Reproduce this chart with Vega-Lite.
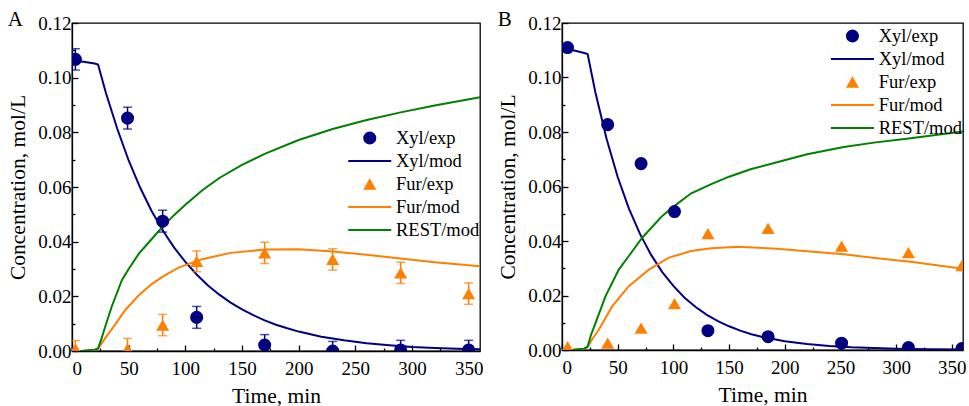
{
  "$schema": "https://vega.github.io/schema/vega-lite/v6.json",
  "background": "white",
  "padding": {"left": 7, "top": 8, "right": 0, "bottom": 0},
  "spacing": 13,
  "config": {
    "font": "Liberation Serif",
    "view": {"stroke": "#000", "strokeWidth": 1.3},
    "axis": {"domainColor": "#000", "domainWidth": 1.3, "tickColor": "#000", "tickWidth": 1.3, "grid": false,
      "labelFont": "Liberation Serif", "labelFontSize": 19, "labelColor": "#000",
      "titleFont": "Liberation Serif", "titleFontSize": 21.5, "titleFontWeight": "normal", "titleColor": "#000", "labelOverlap": false},
    "legend": {"labelFont": "Liberation Serif", "labelFontSize": 18.5, "labelColor": "#000", "padding": 0, "rowPadding": 4, "symbolSize": 170, "symbolStrokeWidth": 0, "symbolOpacity": 1, "labelOffset": 17},
    "title": {"font": "Liberation Serif", "fontSize": 21, "fontWeight": "normal", "color": "#000", "anchor": "start", "frame": "bounds", "offset": -16}
  },
  "resolve": {"scale": {"color": "independent", "shape": "independent"}, "legend": {"color": "independent", "shape": "independent"}},
  "datasets": {
    "A_exp": [
      {"t": 3, "c": 0.1067, "err": 0.0039, "series": "Xyl/exp"},
      {"t": 49, "c": 0.0852, "err": 0.004, "series": "Xyl/exp"},
      {"t": 80, "c": 0.0475, "err": 0.004, "series": "Xyl/exp"},
      {"t": 110, "c": 0.0123, "err": 0.004, "series": "Xyl/exp"},
      {"t": 170, "c": 0.0022, "err": 0.0038, "series": "Xyl/exp"},
      {"t": 230, "c": 0.0, "err": 0.0035, "series": "Xyl/exp"},
      {"t": 290, "c": 0.0004, "err": 0.0035, "series": "Xyl/exp"},
      {"t": 350, "c": 0.0004, "err": 0.0035, "series": "Xyl/exp"},
      {"t": 3, "c": 0.0008, "err": 0.003, "series": "Fur/exp"},
      {"t": 49, "c": 0.0008, "err": 0.0038, "series": "Fur/exp"},
      {"t": 80, "c": 0.0095, "err": 0.0039, "series": "Fur/exp"},
      {"t": 110, "c": 0.0328, "err": 0.0038, "series": "Fur/exp"},
      {"t": 170, "c": 0.0359, "err": 0.0039, "series": "Fur/exp"},
      {"t": 230, "c": 0.0335, "err": 0.0039, "series": "Fur/exp"},
      {"t": 290, "c": 0.0286, "err": 0.0039, "series": "Fur/exp"},
      {"t": 350, "c": 0.021, "err": 0.0039, "series": "Fur/exp"}
    ],
    "A_mod": [
      {"t": 0, "c": 0.1063, "series": "Xyl/mod"}, {"t": 10, "c": 0.1058, "series": "Xyl/mod"}, {"t": 20, "c": 0.1052, "series": "Xyl/mod"},
      {"t": 23, "c": 0.1048, "series": "Xyl/mod"}, {"t": 30, "c": 0.0943, "series": "Xyl/mod"}, {"t": 40, "c": 0.0812, "series": "Xyl/mod"},
      {"t": 50, "c": 0.0697, "series": "Xyl/mod"}, {"t": 60, "c": 0.0599, "series": "Xyl/mod"}, {"t": 70, "c": 0.0514, "series": "Xyl/mod"},
      {"t": 80, "c": 0.0442, "series": "Xyl/mod"}, {"t": 90, "c": 0.0379, "series": "Xyl/mod"}, {"t": 100, "c": 0.0326, "series": "Xyl/mod"},
      {"t": 110, "c": 0.028, "series": "Xyl/mod"}, {"t": 120, "c": 0.024, "series": "Xyl/mod"}, {"t": 130, "c": 0.0206, "series": "Xyl/mod"},
      {"t": 140, "c": 0.0177, "series": "Xyl/mod"}, {"t": 150, "c": 0.0152, "series": "Xyl/mod"}, {"t": 160, "c": 0.0131, "series": "Xyl/mod"},
      {"t": 170, "c": 0.0112, "series": "Xyl/mod"}, {"t": 180, "c": 0.0096, "series": "Xyl/mod"}, {"t": 190, "c": 0.0083, "series": "Xyl/mod"},
      {"t": 200, "c": 0.0071, "series": "Xyl/mod"}, {"t": 220, "c": 0.0052, "series": "Xyl/mod"}, {"t": 240, "c": 0.0039, "series": "Xyl/mod"},
      {"t": 260, "c": 0.0028, "series": "Xyl/mod"}, {"t": 280, "c": 0.0021, "series": "Xyl/mod"}, {"t": 300, "c": 0.0015, "series": "Xyl/mod"},
      {"t": 320, "c": 0.0011, "series": "Xyl/mod"}, {"t": 340, "c": 0.0008, "series": "Xyl/mod"}, {"t": 360, "c": 0.0006, "series": "Xyl/mod"},
      {"t": 0, "c": 0.0, "series": "Fur/mod"}, {"t": 10, "c": 0.0001, "series": "Fur/mod"}, {"t": 20, "c": 0.0005, "series": "Fur/mod"},
      {"t": 23, "c": 0.0009, "series": "Fur/mod"}, {"t": 29, "c": 0.0045, "series": "Fur/mod"}, {"t": 35, "c": 0.0079, "series": "Fur/mod"},
      {"t": 47, "c": 0.015, "series": "Fur/mod"}, {"t": 59, "c": 0.0204, "series": "Fur/mod"}, {"t": 70, "c": 0.0244, "series": "Fur/mod"},
      {"t": 80, "c": 0.0272, "series": "Fur/mod"}, {"t": 94, "c": 0.0305, "series": "Fur/mod"}, {"t": 115, "c": 0.0336, "series": "Fur/mod"},
      {"t": 140, "c": 0.0359, "series": "Fur/mod"}, {"t": 170, "c": 0.0371, "series": "Fur/mod"}, {"t": 200, "c": 0.0372, "series": "Fur/mod"},
      {"t": 230, "c": 0.0364, "series": "Fur/mod"}, {"t": 260, "c": 0.0352, "series": "Fur/mod"}, {"t": 290, "c": 0.0338, "series": "Fur/mod"},
      {"t": 320, "c": 0.0325, "series": "Fur/mod"}, {"t": 360, "c": 0.031, "series": "Fur/mod"},
      {"t": 0, "c": 0.0, "series": "REST/mod"}, {"t": 10, "c": 0.0001, "series": "REST/mod"}, {"t": 20, "c": 0.0005, "series": "REST/mod"},
      {"t": 23, "c": 0.0009, "series": "REST/mod"}, {"t": 26, "c": 0.0045, "series": "REST/mod"}, {"t": 29, "c": 0.0085, "series": "REST/mod"},
      {"t": 35, "c": 0.0162, "series": "REST/mod"}, {"t": 44, "c": 0.0259, "series": "REST/mod"}, {"t": 50, "c": 0.03, "series": "REST/mod"},
      {"t": 59, "c": 0.0356, "series": "REST/mod"}, {"t": 70, "c": 0.0408, "series": "REST/mod"}, {"t": 80, "c": 0.0455, "series": "REST/mod"},
      {"t": 90, "c": 0.0497, "series": "REST/mod"}, {"t": 100, "c": 0.0535, "series": "REST/mod"}, {"t": 115, "c": 0.0588, "series": "REST/mod"},
      {"t": 130, "c": 0.0633, "series": "REST/mod"}, {"t": 150, "c": 0.0681, "series": "REST/mod"}, {"t": 170, "c": 0.0721, "series": "REST/mod"},
      {"t": 200, "c": 0.0772, "series": "REST/mod"}, {"t": 230, "c": 0.0812, "series": "REST/mod"}, {"t": 260, "c": 0.0845, "series": "REST/mod"},
      {"t": 290, "c": 0.0873, "series": "REST/mod"}, {"t": 320, "c": 0.0898, "series": "REST/mod"}, {"t": 360, "c": 0.0928, "series": "REST/mod"}
    ],
    "B_exp": [
      {"t": 5, "c": 0.111, "series": "Xyl/exp"},
      {"t": 41, "c": 0.0827, "series": "Xyl/exp"},
      {"t": 71, "c": 0.0684, "series": "Xyl/exp"},
      {"t": 101, "c": 0.0508, "series": "Xyl/exp"},
      {"t": 131, "c": 0.0071, "series": "Xyl/exp"},
      {"t": 185, "c": 0.0049, "series": "Xyl/exp"},
      {"t": 251, "c": 0.0025, "series": "Xyl/exp"},
      {"t": 311, "c": 0.0009, "series": "Xyl/exp"},
      {"t": 359, "c": 0.0005, "series": "Xyl/exp"},
      {"t": 5, "c": 0.0012, "series": "Fur/exp"},
      {"t": 41, "c": 0.0025, "series": "Fur/exp"},
      {"t": 71, "c": 0.008, "series": "Fur/exp"},
      {"t": 101, "c": 0.017, "series": "Fur/exp"},
      {"t": 131, "c": 0.0427, "series": "Fur/exp"},
      {"t": 185, "c": 0.0446, "series": "Fur/exp"},
      {"t": 251, "c": 0.0381, "series": "Fur/exp"},
      {"t": 311, "c": 0.0357, "series": "Fur/exp"},
      {"t": 359, "c": 0.031, "series": "Fur/exp"}
    ],
    "B_mod": [
      {"t": 0, "c": 0.1108, "series": "Xyl/mod"}, {"t": 10, "c": 0.11, "series": "Xyl/mod"}, {"t": 20, "c": 0.109, "series": "Xyl/mod"},
      {"t": 23, "c": 0.1086, "series": "Xyl/mod"}, {"t": 30, "c": 0.0945, "series": "Xyl/mod"}, {"t": 40, "c": 0.0775, "series": "Xyl/mod"},
      {"t": 50, "c": 0.0635, "series": "Xyl/mod"}, {"t": 60, "c": 0.052, "series": "Xyl/mod"}, {"t": 70, "c": 0.0426, "series": "Xyl/mod"},
      {"t": 80, "c": 0.0349, "series": "Xyl/mod"}, {"t": 90, "c": 0.0286, "series": "Xyl/mod"}, {"t": 100, "c": 0.0235, "series": "Xyl/mod"},
      {"t": 110, "c": 0.0192, "series": "Xyl/mod"}, {"t": 120, "c": 0.0158, "series": "Xyl/mod"}, {"t": 130, "c": 0.0129, "series": "Xyl/mod"},
      {"t": 140, "c": 0.0106, "series": "Xyl/mod"}, {"t": 150, "c": 0.0087, "series": "Xyl/mod"}, {"t": 160, "c": 0.0071, "series": "Xyl/mod"},
      {"t": 170, "c": 0.0058, "series": "Xyl/mod"}, {"t": 180, "c": 0.0048, "series": "Xyl/mod"}, {"t": 200, "c": 0.0032, "series": "Xyl/mod"},
      {"t": 220, "c": 0.0022, "series": "Xyl/mod"}, {"t": 240, "c": 0.0015, "series": "Xyl/mod"}, {"t": 260, "c": 0.001, "series": "Xyl/mod"},
      {"t": 280, "c": 0.0007, "series": "Xyl/mod"}, {"t": 300, "c": 0.0005, "series": "Xyl/mod"}, {"t": 330, "c": 0.0003, "series": "Xyl/mod"},
      {"t": 360, "c": 0.0002, "series": "Xyl/mod"},
      {"t": 0, "c": 0.0, "series": "Fur/mod"}, {"t": 10, "c": 0.0001, "series": "Fur/mod"}, {"t": 20, "c": 0.0005, "series": "Fur/mod"},
      {"t": 23, "c": 0.0012, "series": "Fur/mod"}, {"t": 28, "c": 0.0045, "series": "Fur/mod"}, {"t": 33, "c": 0.0074, "series": "Fur/mod"},
      {"t": 45, "c": 0.016, "series": "Fur/mod"}, {"t": 60, "c": 0.0234, "series": "Fur/mod"}, {"t": 78, "c": 0.0295, "series": "Fur/mod"},
      {"t": 96, "c": 0.0339, "series": "Fur/mod"}, {"t": 116, "c": 0.0363, "series": "Fur/mod"}, {"t": 134, "c": 0.0373, "series": "Fur/mod"},
      {"t": 158, "c": 0.0379, "series": "Fur/mod"}, {"t": 193, "c": 0.0372, "series": "Fur/mod"}, {"t": 220, "c": 0.0362, "series": "Fur/mod"},
      {"t": 253, "c": 0.0351, "series": "Fur/mod"}, {"t": 283, "c": 0.0337, "series": "Fur/mod"}, {"t": 313, "c": 0.0324, "series": "Fur/mod"},
      {"t": 360, "c": 0.0298, "series": "Fur/mod"},
      {"t": 0, "c": 0.0, "series": "REST/mod"}, {"t": 10, "c": 0.0001, "series": "REST/mod"}, {"t": 20, "c": 0.0005, "series": "REST/mod"},
      {"t": 23, "c": 0.0012, "series": "REST/mod"}, {"t": 26, "c": 0.0055, "series": "REST/mod"}, {"t": 30, "c": 0.0098, "series": "REST/mod"},
      {"t": 39, "c": 0.0197, "series": "REST/mod"}, {"t": 51, "c": 0.0295, "series": "REST/mod"}, {"t": 60, "c": 0.0345, "series": "REST/mod"},
      {"t": 72, "c": 0.0412, "series": "REST/mod"}, {"t": 90, "c": 0.0492, "series": "REST/mod"}, {"t": 101, "c": 0.0529, "series": "REST/mod"},
      {"t": 116, "c": 0.0575, "series": "REST/mod"}, {"t": 134, "c": 0.0609, "series": "REST/mod"}, {"t": 150, "c": 0.0636, "series": "REST/mod"},
      {"t": 170, "c": 0.0664, "series": "REST/mod"}, {"t": 193, "c": 0.0689, "series": "REST/mod"}, {"t": 220, "c": 0.0718, "series": "REST/mod"},
      {"t": 253, "c": 0.0745, "series": "REST/mod"}, {"t": 280, "c": 0.0761, "series": "REST/mod"}, {"t": 313, "c": 0.0777, "series": "REST/mod"},
      {"t": 360, "c": 0.0802, "series": "REST/mod"}
    ]
  },
  "hconcat": [
    {
      "width": 408, "height": 328,
      "title": {"text": "A"},
      "resolve": {"axis": {"x": "independent", "y": "independent"}},
      "layer": [
        {
          "data": {"name": "A_mod"},
          "mark": {"type": "line", "strokeWidth": 2, "clip": true},
          "encoding": {
            "x": {"field": "t", "type": "quantitative", "scale": {"domain": [0, 360], "nice": false, "zero": false},
              "axis": {"orient": "bottom", "values": [0, 50, 100, 150, 200, 250, 300, 350], "tickSize": -6, "labelPadding": 14, "title": "Time, min", "titlePadding": 7}},
            "y": {"field": "c", "type": "quantitative", "scale": {"domain": [0, 0.12], "nice": false},
              "axis": {"orient": "left", "values": [0, 0.02, 0.04, 0.06, 0.08, 0.1, 0.12], "format": ".2f", "tickSize": -6, "labelPadding": 7, "title": "Concentration, mol/L", "titlePadding": 8}},
            "color": {"field": "series", "type": "nominal",
              "scale": {"domain": ["Xyl/exp", "Xyl/mod", "Fur/exp", "Fur/mod", "REST/mod"], "range": ["#000080", "#000080", "#FF7F00", "#FF7F00", "#008000"]},
              "legend": {"title": null, "orient": "none", "legendX": 288.5, "legendY": 105.75}}
          }
        },
        {
          "data": {"name": "A_exp"},
          "mark": {"type": "errorbar", "ticks": {"size": 9, "thickness": 1.5}, "thickness": 1.5, "clip": true},
          "encoding": {
            "x": {"field": "t", "type": "quantitative", "axis": {"orient": "bottom", "values": [25, 75, 125, 175, 225, 275, 325], "tickSize": -3, "labels": false, "domain": false, "title": null}},
            "y": {"field": "c", "type": "quantitative", "axis": {"orient": "left", "values": [0.01, 0.03, 0.05, 0.07, 0.09, 0.11], "tickSize": -3, "labels": false, "domain": false, "title": null}},
            "yError": {"field": "err"},
            "color": {"field": "series", "type": "nominal"}
          }
        },
        {
          "data": {"name": "A_exp"},
          "mark": {"type": "point", "filled": true, "opacity": 1, "size": 170, "clip": true},
          "encoding": {
            "x": {"field": "t", "type": "quantitative", "axis": null},
            "y": {"field": "c", "type": "quantitative", "axis": null},
            "color": {"field": "series", "type": "nominal"},
            "shape": {"field": "series", "type": "nominal",
              "scale": {"domain": ["Xyl/exp", "Xyl/mod", "Fur/exp", "Fur/mod", "REST/mod"], "range": ["circle", "M-3.3,-0.16H3.3V0.16H-3.3Z", "triangle-up", "M-3.3,-0.16H3.3V0.16H-3.3Z", "M-3.3,-0.16H3.3V0.16H-3.3Z"]},
              "legend": {"title": null, "orient": "none", "legendX": 288.5, "legendY": 105.75}}
          }
        }
      ]
    },
    {
      "width": 401, "height": 327,
      "title": {"text": "B"},
      "resolve": {"axis": {"x": "independent", "y": "independent"}},
      "layer": [
        {
          "data": {"name": "B_mod"},
          "mark": {"type": "line", "strokeWidth": 2, "clip": true},
          "encoding": {
            "x": {"field": "t", "type": "quantitative", "scale": {"domain": [0, 360], "nice": false, "zero": false},
              "axis": {"orient": "bottom", "values": [0, 50, 100, 150, 200, 250, 300, 350], "tickSize": -6, "labelPadding": 14, "title": "Time, min", "titlePadding": 7}},
            "y": {"field": "c", "type": "quantitative", "scale": {"domain": [0, 0.12], "nice": false},
              "axis": {"orient": "left", "values": [0, 0.02, 0.04, 0.06, 0.08, 0.1, 0.12], "format": ".2f", "tickSize": -6, "labelPadding": 7, "title": "Concentration, mol/L", "titlePadding": 8}},
            "color": {"field": "series", "type": "nominal",
              "scale": {"domain": ["Xyl/exp", "Xyl/mod", "Fur/exp", "Fur/mod", "REST/mod"], "range": ["#000080", "#000080", "#FF7F00", "#FF7F00", "#008000"]},
              "legend": {"title": null, "orient": "none", "legendX": 281.2, "legendY": 3.75}}
          }
        },
        {
          "data": {"name": "B_exp"},
          "mark": {"type": "point", "filled": true, "opacity": 1, "size": 170, "clip": true},
          "encoding": {
            "x": {"field": "t", "type": "quantitative", "axis": {"orient": "bottom", "values": [25, 75, 125, 175, 225, 275, 325], "tickSize": -3, "labels": false, "domain": false, "title": null}},
            "y": {"field": "c", "type": "quantitative", "axis": {"orient": "left", "values": [0.01, 0.03, 0.05, 0.07, 0.09, 0.11], "tickSize": -3, "labels": false, "domain": false, "title": null}},
            "color": {"field": "series", "type": "nominal"},
            "shape": {"field": "series", "type": "nominal",
              "scale": {"domain": ["Xyl/exp", "Xyl/mod", "Fur/exp", "Fur/mod", "REST/mod"], "range": ["circle", "M-3.3,-0.16H3.3V0.16H-3.3Z", "triangle-up", "M-3.3,-0.16H3.3V0.16H-3.3Z", "M-3.3,-0.16H3.3V0.16H-3.3Z"]},
              "legend": {"title": null, "orient": "none", "legendX": 281.2, "legendY": 3.75}}
          }
        }
      ]
    }
  ]
}
